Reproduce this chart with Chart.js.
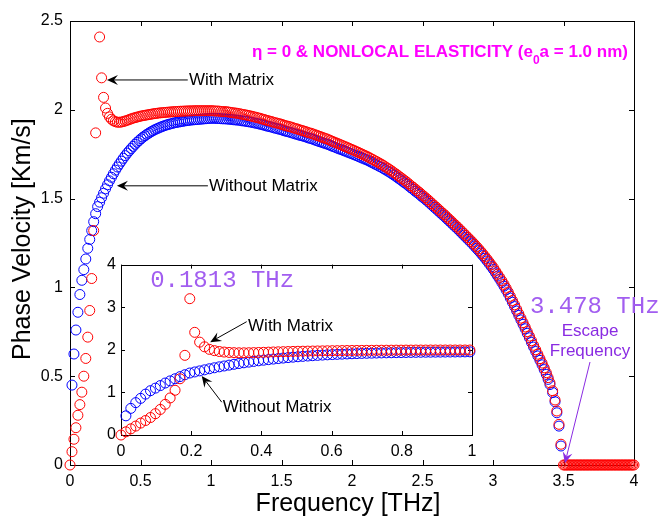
<!DOCTYPE html>
<html lang="en">
<head>
<meta charset="UTF-8" />
<title>Phase Velocity vs Frequency</title>
<script src="https://cdn.jsdelivr.net/npm/chart.js"></script>
<style>
  body { margin: 0; background: #fff; }
  #wrap { position: relative; width: 660px; height: 516px; }
  #mainChart { position: absolute; left: 0; top: 0; }
  #insetChart { position: absolute; left: 90px; top: 250px; }
</style>
</head>
<body>
<div id="wrap">
  <canvas id="mainChart" width="660" height="516"></canvas>
  <canvas id="insetChart" width="400" height="215"></canvas>
</div>

<script>
  // frequency grid [THz], up to the drop at the escape frequency
  const freq = [
    0, 0.014, 0.028, 0.042, 0.056, 0.07, 0.084, 0.098, 0.112, 0.126,
    0.14, 0.154, 0.168, 0.182, 0.196, 0.21, 0.224, 0.238, 0.252, 0.266,
    0.28, 0.294, 0.308, 0.322, 0.336, 0.35, 0.364, 0.378, 0.392, 0.406,
    0.42, 0.434, 0.448, 0.462, 0.476, 0.49, 0.504, 0.518, 0.532, 0.546,
    0.56, 0.574, 0.588, 0.602, 0.616, 0.63, 0.644, 0.658, 0.672, 0.686,
    0.7, 0.714, 0.728, 0.742, 0.756, 0.77, 0.784, 0.798, 0.812, 0.826,
    0.84, 0.854, 0.868, 0.882, 0.896, 0.91, 0.924, 0.938, 0.952, 0.966,
    0.98, 0.994,
    1.008, 1.023, 1.038, 1.053, 1.068, 1.083, 1.098, 1.113, 1.128, 1.143,
    1.158, 1.173, 1.188, 1.203, 1.218, 1.233, 1.248, 1.263, 1.278, 1.293,
    1.308, 1.323, 1.338, 1.353, 1.368, 1.383, 1.398, 1.413, 1.428, 1.443,
    1.458, 1.473, 1.488, 1.503, 1.518, 1.533, 1.548, 1.563, 1.578, 1.593,
    1.608, 1.623, 1.638, 1.653, 1.668, 1.683, 1.698, 1.713, 1.728, 1.743,
    1.758, 1.773, 1.788, 1.803, 1.818, 1.833, 1.848, 1.863, 1.878, 1.893,
    1.908, 1.923, 1.938, 1.953, 1.968, 1.983, 1.998, 2.013, 2.028, 2.043,
    2.058, 2.073, 2.088, 2.103, 2.118, 2.133, 2.148, 2.163, 2.178, 2.193,
    2.208, 2.223, 2.238, 2.253, 2.268, 2.283, 2.298, 2.313, 2.328, 2.343,
    2.358, 2.373, 2.388, 2.403, 2.418, 2.433, 2.448, 2.463, 2.478, 2.493,
    2.508, 2.523, 2.538, 2.553, 2.568, 2.583, 2.598, 2.613, 2.628, 2.643,
    2.658, 2.673, 2.688, 2.703, 2.718, 2.733, 2.748, 2.763, 2.778, 2.793,
    2.808, 2.823, 2.838, 2.853, 2.868, 2.883, 2.898, 2.913, 2.928, 2.943,
    2.958, 2.973, 2.988, 3.003, 3.018, 3.033, 3.048, 3.063, 3.078, 3.093,
    3.108, 3.123, 3.138, 3.153, 3.168, 3.183, 3.198, 3.213, 3.228, 3.243,
    3.258, 3.273, 3.288, 3.303, 3.318, 3.333, 3.348, 3.363,
    3.378, 3.391, 3.404, 3.423, 3.44, 3.453, 3.468, 3.482
  ];

  // phase velocity [km/s] with matrix (red)
  const velWithMatrix = [
    0, 0.075, 0.145, 0.21, 0.28, 0.34, 0.41, 0.50, 0.60, 0.72,
    0.87, 1.05, 1.32, 1.87, 3.20, 2.41, 2.18, 2.07, 2.01, 1.98,
    1.96, 1.947, 1.938, 1.933, 1.930, 1.930, 1.931, 1.934, 1.937, 1.941,
    1.945, 1.949, 1.953, 1.956, 1.959, 1.962, 1.965, 1.967, 1.969, 1.971,
    1.973, 1.975, 1.977, 1.979, 1.980, 1.982, 1.983, 1.984, 1.985, 1.986,
    1.987, 1.988, 1.989, 1.990, 1.990, 1.991, 1.992, 1.992, 1.993, 1.993,
    1.994, 1.994, 1.994, 1.995, 1.995, 1.995, 1.995, 1.995, 1.995, 1.995,
    1.995, 1.995,
    1.995, 1.994, 1.993, 1.993, 1.991, 1.990, 1.990, 1.989, 1.987, 1.985,
    1.983, 1.982, 1.980, 1.978, 1.975, 1.973, 1.971, 1.968, 1.966, 1.963,
    1.960, 1.957, 1.954, 1.951, 1.947, 1.944, 1.940, 1.937, 1.934, 1.930,
    1.927, 1.924, 1.921, 1.918, 1.913, 1.910, 1.907, 1.904, 1.900, 1.896,
    1.893, 1.889, 1.885, 1.882, 1.878, 1.874, 1.870, 1.867, 1.863, 1.858,
    1.854, 1.850, 1.845, 1.841, 1.837, 1.832, 1.827, 1.822, 1.817, 1.812,
    1.807, 1.802, 1.797, 1.792, 1.787, 1.782, 1.777, 1.772, 1.766, 1.761,
    1.755, 1.750, 1.744, 1.739, 1.733, 1.726, 1.720, 1.713, 1.707, 1.700,
    1.694, 1.686, 1.678, 1.671, 1.663, 1.655, 1.646, 1.638, 1.629, 1.620,
    1.611, 1.602, 1.593, 1.583, 1.573, 1.564, 1.554, 1.544, 1.535, 1.524,
    1.514, 1.504, 1.494, 1.483, 1.472, 1.461, 1.451, 1.440, 1.429, 1.418,
    1.408, 1.396, 1.385, 1.374, 1.362, 1.351, 1.340, 1.328, 1.316, 1.304,
    1.292, 1.280, 1.268, 1.256, 1.243, 1.230, 1.217, 1.203, 1.189, 1.174,
    1.159, 1.143, 1.127, 1.111, 1.092, 1.074, 1.056, 1.037, 1.017, 0.996,
    0.974, 0.950, 0.926, 0.902, 0.877, 0.852, 0.827, 0.802, 0.777, 0.751,
    0.726, 0.700, 0.674, 0.649, 0.624, 0.599, 0.574, 0.547,
    0.520, 0.492, 0.463, 0.418, 0.366, 0.304, 0.229, 0.117
  ];

  // phase velocity [km/s] without matrix (blue)
  const velWithoutMatrix = [
    null, 0.45, 0.625, 0.76, 0.86, 0.96, 1.04, 1.10, 1.16, 1.22,
    1.27, 1.32, 1.37, 1.415, 1.455, 1.48, 1.505, 1.53, 1.555, 1.578,
    1.60, 1.62, 1.64, 1.66, 1.678, 1.695, 1.711, 1.727, 1.742, 1.756,
    1.769, 1.782, 1.794, 1.806, 1.817, 1.827, 1.837, 1.846, 1.854, 1.862,
    1.869, 1.876, 1.882, 1.888, 1.893, 1.898, 1.903, 1.907, 1.911, 1.915,
    1.918, 1.921, 1.924, 1.927, 1.929, 1.931, 1.933, 1.935, 1.937, 1.939,
    1.940, 1.942, 1.943, 1.944, 1.945, 1.946, 1.947, 1.948, 1.949, 1.950,
    1.951, 1.952,
    1.952, 1.952, 1.951, 1.951, 1.950, 1.949, 1.949, 1.948, 1.947, 1.946,
    1.944, 1.943, 1.942, 1.941, 1.938, 1.937, 1.935, 1.933, 1.931, 1.929,
    1.926, 1.924, 1.921, 1.918, 1.915, 1.912, 1.908, 1.906, 1.903, 1.899,
    1.896, 1.893, 1.890, 1.887, 1.882, 1.879, 1.876, 1.873, 1.869, 1.865,
    1.862, 1.858, 1.855, 1.852, 1.848, 1.844, 1.840, 1.837, 1.833, 1.828,
    1.824, 1.820, 1.816, 1.812, 1.808, 1.804, 1.799, 1.794, 1.790, 1.785,
    1.780, 1.776, 1.771, 1.767, 1.762, 1.757, 1.753, 1.748, 1.743, 1.738,
    1.733, 1.728, 1.723, 1.718, 1.713, 1.706, 1.701, 1.694, 1.689, 1.682,
    1.677, 1.669, 1.662, 1.655, 1.648, 1.640, 1.632, 1.624, 1.615, 1.607,
    1.598, 1.589, 1.581, 1.571, 1.561, 1.552, 1.542, 1.533, 1.524, 1.513,
    1.504, 1.494, 1.484, 1.473, 1.462, 1.451, 1.441, 1.430, 1.419, 1.408,
    1.398, 1.386, 1.375, 1.364, 1.352, 1.341, 1.330, 1.318, 1.306, 1.294,
    1.282, 1.270, 1.258, 1.246, 1.233, 1.220, 1.207, 1.193, 1.179, 1.164,
    1.149, 1.133, 1.117, 1.101, 1.082, 1.064, 1.046, 1.027, 1.007, 0.986,
    0.964, 0.940, 0.916, 0.892, 0.867, 0.842, 0.817, 0.792, 0.767, 0.741,
    0.716, 0.690, 0.664, 0.639, 0.614, 0.589, 0.564, 0.537,
    0.510, 0.482, 0.453, 0.408, 0.356, 0.294, 0.219, 0.107
  ];

  // beyond the escape frequency the velocity stays at zero (red only)
  const tailFreq = [
    3.5, 3.51, 3.52, 3.53, 3.54, 3.55, 3.56, 3.57, 3.58, 3.59,
    3.6, 3.61, 3.62, 3.63, 3.64, 3.65, 3.66, 3.67, 3.68, 3.69,
    3.7, 3.71, 3.72, 3.73, 3.74, 3.75, 3.76, 3.77, 3.78, 3.79,
    3.8, 3.81, 3.82, 3.83, 3.84, 3.85, 3.86, 3.87, 3.88, 3.89,
    3.9, 3.91, 3.92, 3.93, 3.94, 3.95, 3.96, 3.97, 3.98, 3.99,
    4.0
  ];
  const tailVel = [
    0, 0, 0, 0, 0, 0, 0, 0, 0, 0,
    0, 0, 0, 0, 0, 0, 0, 0, 0, 0,
    0, 0, 0, 0, 0, 0, 0, 0, 0, 0,
    0, 0, 0, 0, 0, 0, 0, 0, 0, 0,
    0, 0, 0, 0, 0, 0, 0, 0, 0, 0,
    0
  ];

  const mainXTicks = [0, 0.5, 1, 1.5, 2, 2.5, 3, 3.5, 4];
  const mainYTicks = [0, 0.5, 1, 1.5, 2, 2.5];
  const insetXTicks = [0, 0.2, 0.4, 0.6, 0.8, 1];
  const insetYTicks = [0, 1, 2, 3, 4];

  const FONT = "'Liberation Sans', Arial, sans-serif";
  const MONO = "'Liberation Mono', 'Courier New', monospace";
  const RED = '#ff0000';
  const BLUE = '#0000ff';
  const PURPLE = '#8a2be2';
  const LILAC = '#a25ef0';   // thin courier text looks lighter
  const MAGENTA = '#ff00ff';

  function toPoints(xs, ys, maxX) {
    const out = [];
    xs.forEach((x, i) => {
      if (ys[i] === null) return;
      if (maxX !== undefined && x > maxX + 1e-9) return;
      out.push({ x: x, y: ys[i] });
    });
    return out;
  }

  function circles(data, color) {
    return {
      data: data,
      showLine: false,
      pointStyle: 'circle',
      pointRadius: 5,
      pointHoverRadius: 5,
      pointBorderWidth: 1,
      borderColor: color,
      backgroundColor: 'rgba(0,0,0,0)',
      clip: false
    };
  }

  function axis(min, max, tickValues, size, pad, isX) {
    return {
      type: 'linear',
      min: min,
      max: max,
      afterBuildTicks: s => { s.ticks = tickValues.map(v => ({ value: v })); },
      afterFit: s => { if (isX) s.height = size; else s.width = size; },
      grid: { display: false, drawTicks: false },
      border: { display: false },
      ticks: {
        autoSkip: false,
        maxRotation: 0,
        padding: pad,
        color: '#000',
        font: { family: FONT, size: 16 },
        callback: v => String(v)
      }
    };
  }

  // box round the plot area with inward tick marks on all four sides
  function drawFrame(chart, tickLen) {
    const { ctx, chartArea: a, scales } = chart;
    ctx.save();
    ctx.strokeStyle = '#000';
    ctx.lineWidth = 1;
    ctx.beginPath();
    scales.x.ticks.forEach(t => {
      const px = Math.round(scales.x.getPixelForValue(t.value)) + 0.5;
      ctx.moveTo(px, a.bottom); ctx.lineTo(px, a.bottom - tickLen);
      ctx.moveTo(px, a.top); ctx.lineTo(px, a.top + tickLen);
    });
    scales.y.ticks.forEach(t => {
      const py = Math.round(scales.y.getPixelForValue(t.value)) + 0.5;
      ctx.moveTo(a.left, py); ctx.lineTo(a.left + tickLen, py);
      ctx.moveTo(a.right, py); ctx.lineTo(a.right - tickLen, py);
    });
    ctx.stroke();
    ctx.strokeRect(Math.round(a.left) + 0.5, Math.round(a.top) + 0.5,
      Math.round(a.right - a.left), Math.round(a.bottom - a.top));
    ctx.restore();
  }

  function arrow(ctx, x1, y1, x2, y2, color) {
    const ang = Math.atan2(y2 - y1, x2 - x1);
    const c = Math.cos(ang), s = Math.sin(ang);
    const len = 11, half = 5, back = 7;
    ctx.save();
    ctx.strokeStyle = color;
    ctx.fillStyle = color;
    ctx.lineWidth = 1;
    ctx.beginPath();
    ctx.moveTo(x1, y1);
    ctx.lineTo(x2 - back * c, y2 - back * s);
    ctx.stroke();
    ctx.beginPath();
    ctx.moveTo(x2, y2);
    ctx.lineTo(x2 - len * c + half * s, y2 - len * s - half * c);
    ctx.lineTo(x2 - back * c, y2 - back * s);
    ctx.lineTo(x2 - len * c - half * s, y2 - len * s + half * c);
    ctx.closePath();
    ctx.fill();
    ctx.restore();
  }

  function label(ctx, text, x, y, font, color, align) {
    ctx.save();
    ctx.font = font;
    ctx.fillStyle = color;
    ctx.textAlign = align || 'left';
    ctx.textBaseline = 'middle';
    ctx.fillText(text, x, y);
    ctx.restore();
  }

  const mainPlugin = {
    id: 'mainDecor',
    beforeDatasetsDraw(chart) { drawFrame(chart, 5); },
    afterDraw(chart) {
      const { ctx, scales: { x, y } } = chart;
      const X = v => x.getPixelForValue(v);
      const Y = v => y.getPixelForValue(v);

      // axis titles
      ctx.save();
      ctx.fillStyle = '#000';
      ctx.font = '25px ' + FONT;
      ctx.textAlign = 'center';
      ctx.textBaseline = 'alphabetic';
      ctx.fillText('Frequency [THz]', 348, 511);
      ctx.translate(30, 360);
      ctx.rotate(-Math.PI / 2);
      ctx.textAlign = 'left';
      ctx.fillText('Phase Velocity [Km/s]', 0, 0);
      ctx.restore();

      // title in magenta with subscript
      ctx.save();
      ctx.fillStyle = MAGENTA;
      const part1 = '\u03b7 = 0 & NONLOCAL ELASTICITY (e';
      const part3 = 'a = 1.0 nm)';
      ctx.font = 'bold 17px ' + FONT;
      const w1 = ctx.measureText(part1).width;
      const w3 = ctx.measureText(part3).width;
      ctx.font = 'bold 12px ' + FONT;
      const w2 = ctx.measureText('0').width;
      const right = X(3.957);
      const base = Y(2.331) + 6;
      let sx = right - (w1 + w2 + w3);
      ctx.textBaseline = 'alphabetic';
      ctx.font = 'bold 17px ' + FONT;
      ctx.fillText(part1, sx, base);
      sx += w1;
      ctx.font = 'bold 12px ' + FONT;
      ctx.fillText('0', sx, base + 7);
      sx += w2;
      ctx.font = 'bold 17px ' + FONT;
      ctx.fillText(part3, sx, base);
      ctx.restore();

      // arrows to the two curves
      const f17 = '17px ' + FONT;
      label(ctx, 'With Matrix', X(0.844), Y(2.168), f17, '#000');
      arrow(ctx, X(0.835), Y(2.168), X(0.262), Y(2.168), '#000');
      label(ctx, 'Without Matrix', X(0.986), Y(1.572), f17, '#000');
      arrow(ctx, X(0.978), Y(1.572), X(0.333), Y(1.572), '#000');

      // escape frequency
      label(ctx, '3.478 THz', X(3.262), Y(0.89), '24px ' + MONO, LILAC);
      label(ctx, 'Escape', X(3.688), Y(0.755), f17, PURPLE, 'center');
      label(ctx, 'Frequency', X(3.688), Y(0.642), f17, PURPLE, 'center');
      arrow(ctx, X(3.688), Y(0.58), X(3.51), Y(0.01), PURPLE);
    }
  };

  const insetPlugin = {
    id: 'insetDecor',
    beforeDraw(chart) {
      const { ctx, chartArea: a } = chart;
      ctx.save();
      ctx.fillStyle = '#fff';
      ctx.fillRect(a.left, a.top, a.right - a.left, a.bottom - a.top);
      ctx.restore();
    },
    beforeDatasetsDraw(chart) { drawFrame(chart, 4); },
    afterDraw(chart) {
      const { ctx, scales: { x, y } } = chart;
      const X = v => x.getPixelForValue(v);
      const Y = v => y.getPixelForValue(v);
      const f17 = '17px ' + FONT;
      label(ctx, '0.1813 THz', X(0.083), Y(3.63), '24px ' + MONO, LILAC);
      label(ctx, 'With Matrix', X(0.362), Y(2.54), f17, '#000');
      arrow(ctx, X(0.358), Y(2.66), X(0.254), Y(2.18), '#000');
      label(ctx, 'Without Matrix', X(0.29), Y(0.647), f17, '#000');
      arrow(ctx, X(0.287), Y(0.77), X(0.23), Y(1.387), '#000');
    }
  };

  const common = {
    responsive: false,
    animation: false,
    devicePixelRatio: 1,
    events: [],
    plugins: { legend: { display: false }, tooltip: { enabled: false } }
  };

  new Chart(document.getElementById('mainChart'), {
    type: 'scatter',
    data: {
      datasets: [
        circles(toPoints(freq.concat(tailFreq), velWithMatrix.concat(tailVel)), RED),
        circles(toPoints(freq, velWithoutMatrix), BLUE)
      ]
    },
    options: Object.assign({}, common, {
      layout: { padding: { left: 0, top: 21, right: 26, bottom: 0 } },
      scales: {
        x: axis(0, 4, mainXTicks, 51, 7, true),
        y: axis(0, 2.5, mainYTicks, 70, 7, false)
      }
    }),
    plugins: [mainPlugin]
  });

  new Chart(document.getElementById('insetChart'), {
    type: 'scatter',
    data: {
      datasets: [
        circles(toPoints(freq, velWithMatrix, 1), RED),
        circles(toPoints(freq, velWithoutMatrix, 1), BLUE)
      ]
    },
    options: Object.assign({}, common, {
      layout: { padding: { left: 0, top: 12, right: 18, bottom: 0 } },
      scales: {
        x: axis(0, 1, insetXTicks, 30, 7, true),
        y: axis(0, 4, insetYTicks, 31, 5, false)
      }
    }),
    plugins: [insetPlugin]
  });
</script>
</body>
</html>
